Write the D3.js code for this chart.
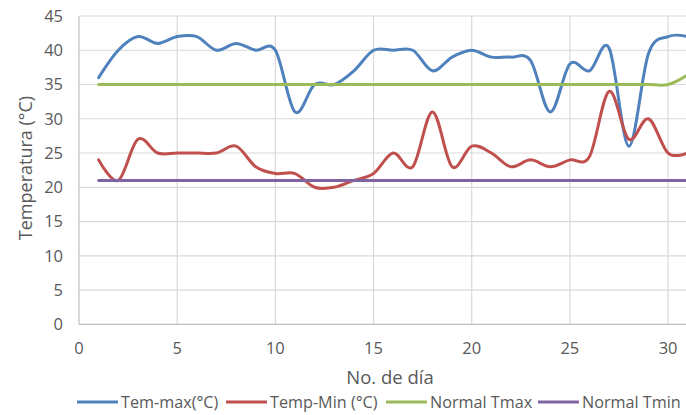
<!DOCTYPE html>
<html><head><meta charset="utf-8">
<script src="https://cdn.jsdelivr.net/npm/d3@7"></script>
<style>
html,body{margin:0;padding:0;background:#fff;}
svg{display:block;font-family:"Open Sans",sans-serif;}
</style></head>
<body>
<svg id="c" width="686" height="415"></svg>
<script>
const days = d3.range(1, 32);
const temMax = [36,40,42,41,42,42,40,41,40,40,31,35,35,37,40,40,40,37,39,40,39,39,38.5,31,38,37,40.3,26,39.5,42,42];
const tempMin = [24,21,27,25,25,25,25,26,23,22,22,20,20,21,22,25,23,31,23,26,25,23,24,23,24,24.5,34,27,30,25,25];
const normalTmax = [35,35,35,35,35,35,35,35,35,35,35,35,35,35,35,35,35,35,35,35,35,35,35,35,35,35,35,35,35,35,36.4];
const normalTmin = [21,21,21,21,21,21,21,21,21,21,21,21,21,21,21,21,21,21,21,21,21,21,21,21,21,21,21,21,21,21,21];
const seriesNames = ["Tem-max(°C)","Temp-Min (°C)","Normal Tmax","Normal Tmin"];
const colors = ["#4F81BD","#C0504D","#9BBB59","#8064A2"];
const xTicks = [0,5,10,15,20,25,30];
const yTicks = [0,5,10,15,20,25,30,35,40,45];

const svg = d3.select("#c");
const x = d3.scaleLinear().domain([0,31]).range([79,687.7]);
const y = d3.scaleLinear().domain([0,45]).range([324.3,16]);
const textCol = "#595959";

// gridlines
svg.append("g").selectAll("line").data(yTicks.filter(d=>d>0)).join("line")
  .attr("x1",x(0)).attr("x2",686).attr("y1",d=>y(d)).attr("y2",d=>y(d))
  .attr("stroke","#d9d9d9").attr("stroke-width",1.2);
svg.append("g").selectAll("line").data(xTicks.filter(d=>d>0)).join("line")
  .attr("x1",d=>x(d)).attr("x2",d=>x(d)).attr("y1",y(45)).attr("y2",y(0))
  .attr("stroke","#d9d9d9").attr("stroke-width",1.2);
// axes
svg.append("line").attr("x1",x(0)).attr("x2",x(0)).attr("y1",y(45)).attr("y2",y(0)).attr("stroke","#bfbfbf").attr("stroke-width",1.2);
svg.append("line").attr("x1",x(0)).attr("x2",686).attr("y1",y(0)).attr("y2",y(0)).attr("stroke","#bfbfbf").attr("stroke-width",1.2);

// tick labels
svg.append("g").selectAll("text").data(yTicks).join("text")
  .attr("x",63).attr("y",d=>y(d)).attr("dy","0.36em").attr("text-anchor","end")
  .attr("font-size",16.5).attr("fill",textCol).text(d=>d);
svg.append("g").selectAll("text").data(xTicks).join("text")
  .attr("x",d=>x(d)).attr("y",348).attr("dy","0.36em").attr("text-anchor","middle")
  .attr("font-size",16.5).attr("fill",textCol).text(d=>d);

// axis titles
svg.append("text").attr("x",390).attr("y",377).attr("dy","0.36em").attr("text-anchor","middle")
  .attr("font-size",18.5).attr("fill",textCol).text("No. de día");
svg.append("text").attr("transform","translate(26,168) rotate(-90)").attr("dy","0.36em").attr("text-anchor","middle")
  .attr("font-size",18).attr("fill",textCol).text("Temperatura (°C)");

// lines
const data = [temMax,tempMin,normalTmax,normalTmin];
const line = d3.line().x((d,i)=>x(days[i])).y(d=>y(d)).curve(d3.curveCardinal.tension(0));
[0,1,2,3].forEach(k=>{
  svg.append("path").datum(data[k]).attr("d",line).attr("fill","none")
    .attr("stroke",colors[k]).attr("stroke-width",3).attr("stroke-linecap","round").attr("stroke-linejoin","round");
});

// legend
const legX = [77,226,386,538];
const lg = svg.append("g");
seriesNames.forEach((n,i)=>{
  lg.append("line").attr("x1",legX[i]).attr("x2",legX[i]+41).attr("y1",402).attr("y2",402)
    .attr("stroke",colors[i]).attr("stroke-width",3);
  lg.append("text").attr("x",legX[i]+44).attr("y",402).attr("dy","0.36em")
    .attr("font-size",16.2).attr("fill",textCol).text(n);
});
</script>
</body></html>
